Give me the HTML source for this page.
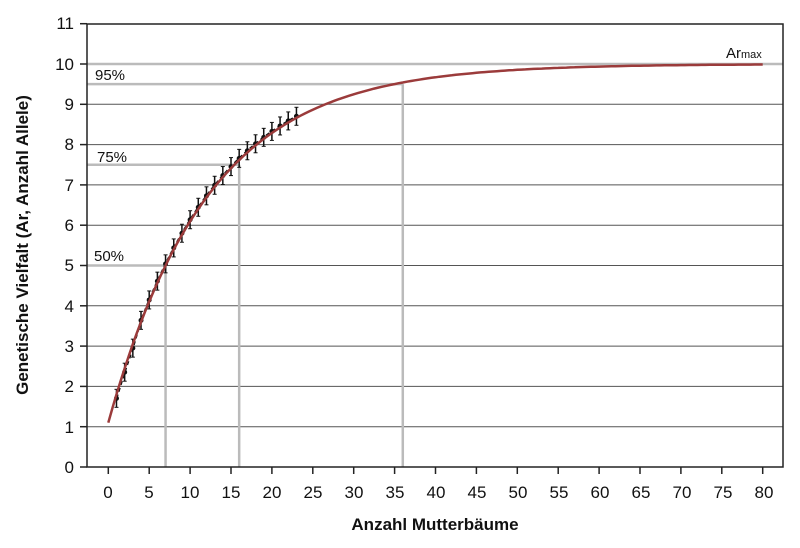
<!DOCTYPE html>
<html><head><meta charset="utf-8"><style>
html,body{margin:0;padding:0;background:#fff;}
svg{display:block;font-family:"Liberation Sans",sans-serif;}
</style></head><body>
<svg id="s" width="800" height="548" viewBox="0 0 800 548">
<g id="grid"></g>
<rect x="87" y="24" width="696" height="443" fill="none" stroke="#222" stroke-width="1.5"/>
<g font-size="17" fill="#111" text-anchor="end">
<text x="74" y="473">0</text><text x="74" y="433">1</text><text x="74" y="392">2</text><text x="74" y="352">3</text><text x="74" y="312">4</text><text x="74" y="271">5</text><text x="74" y="231">6</text><text x="74" y="191">7</text><text x="74" y="150">8</text><text x="74" y="110">9</text><text x="74" y="70">10</text><text x="74" y="29">11</text>
</g>
<g font-size="17" fill="#111" text-anchor="middle">
<text x="108" y="498">0</text><text x="149" y="498">5</text><text x="190" y="498">10</text><text x="231" y="498">15</text><text x="272" y="498">20</text><text x="313" y="498">25</text><text x="354" y="498">30</text><text x="395" y="498">35</text><text x="436" y="498">40</text><text x="477" y="498">45</text><text x="518" y="498">50</text><text x="559" y="498">55</text><text x="600" y="498">60</text><text x="641" y="498">65</text><text x="682" y="498">70</text><text x="723" y="498">75</text><text x="764" y="498">80</text>
</g>
<g font-size="15" fill="#111">
<text x="95" y="80">95%</text><text x="97" y="162">75%</text><text x="94" y="261">50%</text>
<text x="726" y="58" font-size="15">Ar<tspan font-size="11">max</tspan></text>
</g>
<text x="435" y="530" font-size="17" font-weight="bold" text-anchor="middle" fill="#111">Anzahl Mutterbäume</text>
<text transform="translate(28,245) rotate(-90)" font-size="17" font-weight="bold" text-anchor="middle" fill="#111">Genetische Vielfalt (Ar, Anzahl Allele)</text>
<g id="data"></g>
<path id="curve" fill="none" stroke="#9b3b3b" stroke-width="2.5"/>
</svg>
<script>
const X=n=>108.3+n*8.18, Y=v=>467-v*40.3;
let g='';
for(let i=1;i<=9;i++) g+=`<line x1="87" x2="783" y1="${Y(i)}" y2="${Y(i)}" stroke="#555" stroke-width="1"/>`;
g+=`<line x1="87" x2="783" y1="${Y(10)}" y2="${Y(10)}" stroke="#bbb" stroke-width="2.5"/>`;
[[9.5,36],[7.5,16],[5,7]].forEach(([v,n])=>{
g+=`<line x1="87" x2="${X(n)}" y1="${Y(v)}" y2="${Y(v)}" stroke="#bbb" stroke-width="2.5"/>`;
g+=`<line x1="${X(n)}" x2="${X(n)}" y1="${Y(v)}" y2="467" stroke="#bbb" stroke-width="2.5"/>`;});
for(let n=0;n<=80;n+=5) g+=`<line x1="${X(n)}" x2="${X(n)}" y1="467" y2="474" stroke="#222" stroke-width="1.5"/>`;
for(let i=0;i<=11;i++) g+=`<line x1="80" x2="87" y1="${Y(i)}" y2="${Y(i)}" stroke="#222" stroke-width="1.5"/>`;
document.getElementById('grid').innerHTML=g;
const f=n=>10-8.9*Math.exp(-0.0824*n);
let d='';for(let n=0;n<=80;n+=0.5) d+=(n?'L':'M')+X(n).toFixed(1)+' '+Y(f(n)).toFixed(1);
document.getElementById('curve').setAttribute('d',d);
let dd='',pd='';
for(let n=1;n<=23;n++){const off=n<4?-0.1:0.04;const x=X(n),y=Y(f(n)+off);pd+=(n>1?'L':'M')+x+' '+y;
dd+=`<line x1="${x}" x2="${x}" y1="${y-9}" y2="${y+9}" stroke="#111" stroke-width="1.5"/><line x1="${x-2}" x2="${x+2}" y1="${y-9}" y2="${y-9}" stroke="#111"/><line x1="${x-2}" x2="${x+2}" y1="${y+9}" y2="${y+9}" stroke="#111"/><circle cx="${x}" cy="${y}" r="2.5" fill="#111"/>`;}
dd+=`<path d="${pd}" fill="none" stroke="#111" stroke-width="2" stroke-dasharray="4 3"/>`;
document.getElementById('data').innerHTML=dd;
</script>
</body></html>
